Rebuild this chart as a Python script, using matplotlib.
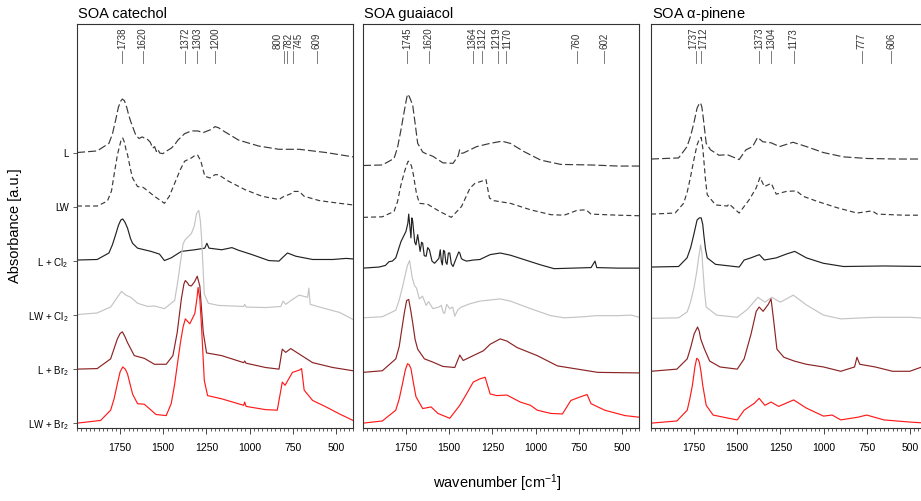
import matplotlib
matplotlib.use("Agg")
import matplotlib.pyplot as plt
import matplotlib.ticker as mticker
import matplotlib.transforms as mtrans

plt.rcParams['font.family'] = ['Liberation Sans', 'DejaVu Sans']
plt.rcParams['mathtext.default'] = 'regular'
plt.rcParams['lines.scale_dashes'] = False

# spectra as (wavenumber, absorbance) pairs
cat_L = [(2000, 0.01), (1883, 0.04), (1815, 0.18), (1795, 0.35), (1776, 0.61), (1760, 0.85), (1745, 0.97),
         (1737, 1.0), (1725, 0.97), (1712, 0.85), (1700, 0.7), (1688, 0.58), (1659, 0.33), (1640, 0.27),
         (1622, 0.3), (1605, 0.27), (1590, 0.25), (1575, 0.2), (1561, 0.09), (1550, 0.12), (1540, 0.03),
         (1532, 0.07), (1520, 0.0), (1502, -0.01), (1480, 0.04), (1454, 0.09), (1435, 0.15), (1415, 0.24),
         (1376, 0.36), (1337, 0.41), (1300, 0.41), (1268, 0.38), (1220, 0.44), (1200, 0.49), (1180, 0.47),
         (1141, 0.39), (1063, 0.24), (946, 0.13), (829, 0.07), (712, 0.07), (556, 0.01), (400, -0.07)]
cat_LW = [(2000, 0.02), (1883, 0.02), (1824, 0.11), (1800, 0.3), (1785, 0.6), (1765, 0.98), (1746, 1.22),
          (1735, 1.28), (1725, 1.2), (1715, 1.05), (1707, 0.97), (1690, 0.7), (1678, 0.54), (1649, 0.38),
          (1620, 0.37), (1610, 0.35), (1551, 0.2), (1493, 0.07), (1465, 0.2), (1434, 0.44), (1400, 0.7),
          (1376, 0.85), (1337, 0.91), (1310, 0.97), (1300, 0.96), (1282, 0.85), (1259, 0.57), (1229, 0.54),
          (1200, 0.6), (1180, 0.6), (1122, 0.48), (1024, 0.32), (927, 0.2), (829, 0.14), (800, 0.2),
          (782, 0.22), (751, 0.26), (745, 0.29), (712, 0.29), (683, 0.2), (595, 0.12), (478, 0.07), (400, 0.04)]
cat_LCl = [(2000, 0.02), (1883, 0.03), (1815, 0.15), (1795, 0.3), (1776, 0.49), (1760, 0.66), (1746, 0.76),
           (1735, 0.78), (1722, 0.72), (1707, 0.61), (1690, 0.42), (1678, 0.33), (1649, 0.24), (1571, 0.18),
           (1522, 0.13), (1493, 0.01), (1454, 0.06), (1395, 0.18), (1317, 0.21), (1259, 0.24), (1247, 0.33),
           (1235, 0.24), (1161, 0.21), (1102, 0.25), (1063, 0.2), (985, 0.12), (888, 0.01), (829, 0.0),
           (810, 0.06), (780, 0.15), (731, 0.09), (634, 0.03), (517, 0.03), (439, 0.05), (400, 0.04)]
cat_LWCl = [(2000, 0.01), (1883, 0.04), (1805, 0.15), (1766, 0.33), (1742, 0.44), (1717, 0.37), (1688, 0.33),
            (1649, 0.22), (1590, 0.16), (1551, 0.17), (1493, 0.12), (1434, 0.27), (1415, 0.64), (1385, 1.32),
            (1372, 1.4), (1337, 1.51), (1320, 1.65), (1307, 1.88), (1294, 1.94), (1285, 1.75), (1278, 1.44),
            (1262, 0.39), (1239, 0.22), (1180, 0.18), (1034, 0.16), (1028, 0.2), (1020, 0.15), (907, 0.14),
            (819, 0.16), (805, 0.26), (790, 0.2), (751, 0.29), (712, 0.37), (663, 0.33), (656, 0.5), (648, 0.2),
            (595, 0.15), (478, 0.05), (400, -0.08)]
cat_LBr = [(2000, 0.0), (1883, 0.01), (1805, 0.19), (1785, 0.38), (1766, 0.56), (1750, 0.66), (1737, 0.69),
           (1722, 0.6), (1707, 0.49), (1668, 0.25), (1610, 0.2), (1551, 0.09), (1483, 0.09), (1444, 0.25),
           (1419, 0.68), (1395, 1.3), (1380, 1.58), (1372, 1.64), (1360, 1.6), (1350, 1.55), (1337, 1.54),
           (1318, 1.62), (1303, 1.72), (1288, 1.54), (1268, 0.68), (1249, 0.3), (1161, 0.25), (1034, 0.12),
           (1028, 0.15), (1020, 0.11), (907, 0.03), (829, 0.0), (810, 0.37), (790, 0.31), (761, 0.38),
           (712, 0.28), (634, 0.12), (517, 0.03), (400, -0.03)]
cat_LWBr = [(2000, 0.0), (1863, 0.05), (1805, 0.24), (1785, 0.45), (1766, 0.73), (1750, 0.95), (1735, 1.04),
            (1720, 1.0), (1707, 0.91), (1678, 0.54), (1649, 0.36), (1610, 0.35), (1581, 0.27), (1542, 0.16),
            (1483, 0.14), (1454, 0.36), (1435, 0.7), (1415, 1.16), (1400, 1.5), (1385, 1.78), (1372, 1.93),
            (1346, 1.84), (1317, 2.03), (1305, 2.3), (1298, 2.51), (1288, 2.3), (1278, 1.78), (1262, 0.79),
            (1243, 0.51), (1161, 0.45), (1034, 0.33), (1028, 0.39), (1020, 0.31), (907, 0.25), (839, 0.24),
            (810, 0.76), (794, 0.7), (751, 0.94), (712, 0.98), (698, 1.01), (683, 0.61), (634, 0.42),
            (556, 0.3), (478, 0.17), (400, 0.05)]

gua_L = [(2000, -0.23), (1888, -0.22), (1820, -0.1), (1800, 0.1), (1780, 0.43), (1765, 0.7), (1751, 0.95),
         (1742, 1.09), (1732, 1.05), (1722, 0.97), (1712, 0.89), (1700, 0.6), (1683, 0.18), (1654, 0.02),
         (1630, -0.02), (1610, -0.04), (1595, -0.06), (1537, -0.18), (1478, -0.19), (1448, -0.05), (1440, 0.06),
         (1430, 0.0), (1419, 0.0), (1341, 0.12), (1263, 0.18), (1195, 0.22), (1146, 0.18), (1068, 0.03),
         (970, -0.13), (853, -0.21), (678, -0.22), (521, -0.24), (400, -0.24)]
gua_LW = [(2000, -0.19), (1888, -0.18), (1820, -0.08), (1800, 0.1), (1780, 0.41), (1760, 0.65), (1747, 0.78),
          (1738, 0.85), (1728, 0.83), (1718, 0.75), (1708, 0.6), (1690, 0.25), (1673, 0.07), (1645, 0.06),
          (1624, 0.05), (1556, -0.08), (1488, -0.19), (1429, 0.01), (1380, 0.35), (1351, 0.44), (1312, 0.48),
          (1287, 0.51), (1267, 0.17), (1244, 0.12), (1146, 0.07), (1029, -0.05), (912, -0.14), (834, -0.15),
          (775, -0.08), (760, -0.06), (707, -0.05), (678, -0.13), (521, -0.15), (400, -0.16)]
gua_LCl = [(2000, -0.13), (1907, -0.11), (1870, -0.08), (1849, -0.01), (1830, 0.0), (1810, 0.06), (1780, 0.36),
           (1751, 0.55), (1740, 0.7), (1735, 0.87), (1727, 0.6), (1722, 0.43), (1717, 0.8), (1712, 0.74),
           (1700, 0.35), (1693, 0.3), (1683, 0.49), (1669, 0.18), (1660, 0.35), (1654, 0.33), (1645, 0.1),
           (1634, 0.09), (1625, 0.25), (1615, 0.21), (1600, 0.0), (1585, -0.04), (1560, 0.05), (1552, 0.21),
           (1546, 0.0), (1540, -0.07), (1533, 0.2), (1527, 0.18), (1520, -0.02), (1513, -0.06), (1505, 0.15),
           (1497, 0.15), (1488, -0.05), (1478, -0.1), (1460, 0.05), (1445, 0.17), (1439, 0.15), (1430, 0.05),
           (1423, 0.03), (1400, 0.0), (1360, 0.02), (1322, 0.03), (1263, 0.12), (1205, 0.15), (1146, 0.11),
           (1068, 0.03), (970, -0.07), (892, -0.14), (678, -0.12), (655, 0.0), (645, -0.12), (521, -0.13),
           (400, -0.13)]
gua_LWCl = [(2000, -0.05), (1888, -0.03), (1810, 0.09), (1790, 0.28), (1771, 0.52), (1755, 0.75), (1742, 0.92),
            (1730, 1.01), (1722, 0.85), (1715, 0.7), (1702, 0.55), (1690, 0.5), (1673, 0.3), (1655, 0.35),
            (1634, 0.18), (1620, 0.25), (1595, 0.12), (1560, 0.15), (1546, 0.18), (1535, 0.05), (1527, 0.03),
            (1515, 0.2), (1497, 0.12), (1480, 0.15), (1468, -0.02), (1450, 0.1), (1429, 0.15), (1380, 0.21),
            (1322, 0.26), (1263, 0.28), (1205, 0.3), (1146, 0.26), (1029, 0.12), (912, -0.01), (834, -0.05),
            (717, -0.03), (650, -0.01), (521, -0.01), (443, 0.0), (400, -0.04)]
gua_LBr = [(2000, -0.06), (1888, -0.03), (1810, 0.19), (1790, 0.42), (1775, 0.74), (1760, 1.05), (1747, 1.27),
           (1735, 1.29), (1724, 1.1), (1712, 0.86), (1698, 0.55), (1683, 0.37), (1644, 0.19), (1595, 0.13),
           (1537, 0.05), (1468, 0.03), (1439, 0.26), (1419, 0.16), (1361, 0.25), (1302, 0.34), (1263, 0.46),
           (1205, 0.56), (1166, 0.52), (1107, 0.4), (990, 0.25), (873, 0.06), (795, 0.02), (639, -0.06),
           (400, -0.07)]
gua_LWBr = [(2000, 0.0), (1888, 0.04), (1810, 0.24), (1790, 0.45), (1771, 0.73), (1755, 0.98), (1742, 1.1),
            (1732, 1.08), (1722, 1.01), (1708, 0.75), (1693, 0.49), (1654, 0.27), (1605, 0.3), (1566, 0.18),
            (1497, 0.09), (1439, 0.33), (1400, 0.54), (1361, 0.76), (1322, 0.82), (1292, 0.85), (1263, 0.54),
            (1224, 0.51), (1166, 0.52), (1088, 0.39), (1029, 0.33), (990, 0.24), (912, 0.18), (844, 0.17),
            (795, 0.42), (746, 0.48), (701, 0.53), (678, 0.36), (599, 0.24), (482, 0.14), (400, 0.11)]

pin_L = [(2000, -0.11), (1840, -0.09), (1791, 0.12), (1770, 0.32), (1752, 0.55), (1733, 0.83), (1720, 0.92),
         (1713, 0.93), (1705, 0.85), (1698, 0.68), (1688, 0.4), (1680, 0.18), (1655, 0.06), (1606, -0.04),
         (1557, -0.03), (1489, -0.12), (1450, 0.06), (1411, 0.12), (1382, 0.29), (1352, 0.21), (1303, 0.19),
         (1255, 0.12), (1177, 0.2), (1099, 0.12), (1001, 0.01), (884, -0.07), (747, -0.1), (572, -0.11),
         (400, -0.11)]
pin_LW = [(2000, -0.13), (1860, -0.11), (1811, 0.07), (1790, 0.28), (1772, 0.54), (1750, 0.9), (1733, 1.15),
          (1720, 1.26), (1709, 1.29), (1700, 1.1), (1694, 0.88), (1684, 0.5), (1674, 0.23), (1626, 0.04),
          (1557, 0.02), (1548, 0.06), (1489, -0.11), (1430, 0.14), (1391, 0.35), (1368, 0.55), (1343, 0.38),
          (1303, 0.44), (1274, 0.24), (1216, 0.29), (1157, 0.3), (1118, 0.2), (1040, 0.11), (923, -0.01),
          (806, -0.11), (718, -0.07), (689, -0.13), (533, -0.15), (400, -0.15)]
pin_LCl = [(2000, -0.11), (1840, -0.1), (1791, 0.06), (1770, 0.25), (1752, 0.49), (1733, 0.76), (1720, 0.8),
           (1709, 0.8), (1700, 0.68), (1694, 0.49), (1684, 0.22), (1674, 0.06), (1626, -0.06), (1489, -0.11),
           (1460, 0.02), (1421, 0.06), (1372, 0.12), (1343, 0.02), (1274, 0.06), (1216, 0.13), (1167, 0.18),
           (1099, 0.06), (1001, -0.04), (884, -0.1), (650, -0.09), (400, -0.1)]
pin_LWCl = [(2000, -0.06), (1840, -0.05), (1790, 0.06), (1770, 0.25), (1750, 0.52), (1735, 0.8), (1725, 1.04),
            (1712, 1.3), (1705, 1.15), (1700, 0.89), (1690, 0.45), (1680, 0.15), (1620, 0.0), (1500, -0.04),
            (1440, 0.11), (1380, 0.33), (1340, 0.24), (1300, 0.33), (1250, 0.24), (1175, 0.37), (1100, 0.19),
            (1000, 0.0), (900, -0.07), (700, -0.04), (500, -0.04), (400, -0.06)]
pin_LBr = [(2000, -0.04), (1850, 0.0), (1790, 0.19), (1770, 0.4), (1750, 0.65), (1730, 0.78), (1720, 0.7),
           (1712, 0.56), (1690, 0.37), (1660, 0.15), (1600, 0.04), (1500, 0.0), (1460, 0.19), (1420, 0.65),
           (1390, 1.07), (1373, 1.15), (1350, 1.07), (1320, 1.2), (1304, 1.3), (1290, 0.93), (1270, 0.37),
           (1230, 0.22), (1170, 0.15), (1100, 0.09), (1000, 0.04), (900, -0.04), (820, 0.04), (806, 0.22),
           (790, 0.09), (700, 0.04), (600, -0.04), (500, -0.04), (430, 0.04), (400, -0.04)]
pin_LWBr = [(2000, 0.0), (1850, 0.04), (1790, 0.24), (1775, 0.45), (1760, 0.7), (1745, 1.05), (1735, 1.2),
            (1727, 1.18), (1720, 1.13), (1710, 0.95), (1700, 0.7), (1680, 0.33), (1640, 0.15), (1550, 0.09),
            (1500, 0.06), (1460, 0.24), (1400, 0.37), (1373, 0.46), (1340, 0.33), (1304, 0.39), (1260, 0.31),
            (1173, 0.43), (1100, 0.28), (1000, 0.13), (950, 0.15), (900, 0.06), (800, 0.11), (750, 0.15),
            (650, 0.06), (500, 0.02), (400, 0.0)]

sample_labels = ["L", "LW", "L + Cl$_2$", "LW + Cl$_2$", "L + Br$_2$", "LW + Br$_2$"]
offsets = [5, 4, 3, 2, 1, 0]

titles = ["SOA catechol", "SOA guaiacol", "SOA $\\alpha$-pinene"]
cat_peaks = [1738, 1620, 1372, 1303, 1200, 800, 782, 745, 609]
gua_peaks = [1745, 1620, 1364, 1312, 1219, 1170, 760, 602]
pin_peaks = [1737, 1712, 1373, 1304, 1173, 777, 606]

panels = [
    (titles[0], [cat_L, cat_LW, cat_LCl, cat_LWCl, cat_LBr, cat_LWBr], cat_peaks),
    (titles[1], [gua_L, gua_LW, gua_LCl, gua_LWCl, gua_LBr, gua_LWBr], gua_peaks),
    (titles[2], [pin_L, pin_LW, pin_LCl, pin_LWCl, pin_LBr, pin_LWBr], pin_peaks),
]

styles = [
    dict(color="#3a3a3a", dashes=(5.8, 2.2)),
    dict(color="#3a3a3a", dashes=(3.6, 2.2)),
    dict(color="#222222"),
    dict(color="#c4c4c4"),
    dict(color="#8b2424"),
    dict(color="#ff1a1a"),
]


def spread(peaks, gap):
    # push close labels apart so the rotated numbers don't overlap
    pos = sorted(peaks, reverse=True)
    groups = [[pos[0]]]
    for p in pos[1:]:
        if groups[-1][-1] - p < gap:
            groups[-1].append(p)
        else:
            groups.append([p])
    out = []
    for g in groups:
        c = sum(g) / len(g)
        n = len(g)
        out += [c + gap * ((n - 1) / 2 - i) for i in range(n)]
    return pos, out


fig = plt.figure(figsize=(9.21, 5.01), dpi=100)
lefts = [77 / 921, 363 / 921, 651 / 921]
w = 276 / 921
bottom = 73 / 501
h = 404 / 501

for i, (title, spectra, peaks) in enumerate(panels):
    ax = fig.add_axes([lefts[i], bottom, w, h])
    for spec, off, st in zip(spectra, offsets, styles):
        xs = [p[0] for p in spec]
        ys = [p[1] + off for p in spec]
        line, = ax.plot(xs, ys, color=st["color"], lw=0.85)
        if "dashes" in st:
            line.set_dashes(st["dashes"])

    ax.set_xlim(2000, 400)
    ax.set_ylim(-0.09, 7.39)
    ax.xaxis.set_major_locator(mticker.FixedLocator([1750, 1500, 1250, 1000, 750, 500]))
    ax.xaxis.set_minor_locator(mticker.MultipleLocator(25))
    ax.tick_params(axis='x', which='major', length=4, width=0.7, labelsize=7.5, pad=7, color="#444444")
    ax.tick_params(axis='x', which='minor', length=2, width=0.6, color="#444444")

    if i == 0:
        ax.set_yticks(offsets)
        ax.set_yticklabels(sample_labels)
        ax.tick_params(axis='y', length=3, width=0.6, labelsize=7, pad=3, color="#444444")
    else:
        ax.set_yticks([])

    for s in ax.spines.values():
        s.set_linewidth(0.8)
        s.set_color("#333333")

    ax.text(0.005, 1.014, title, transform=ax.transAxes, fontsize=10.5, va='baseline', ha='left')

    # peak markers at the top
    trans = mtrans.blended_transform_factory(ax.transData, ax.transAxes)
    real, shown = spread(peaks, 60)
    for p, q in zip(real, shown):
        ax.plot([p, p], [0.903, 0.934], color="#666666", lw=0.6, transform=trans)
        ax.text(q, 0.937, str(p), rotation=90, ha='center', va='bottom', fontsize=7,
                color="#333333", transform=trans)

fig.text(15 / 921, 1 - 226 / 501, "Absorbance [a.u.]", rotation=90, ha='center', va='center', fontsize=10.5)
fig.text(497 / 921, 1 - 483 / 501, "wavenumber [cm$^{-1}$]", ha='center', va='center', fontsize=10.5)

fig.savefig("out.png", dpi=100)
